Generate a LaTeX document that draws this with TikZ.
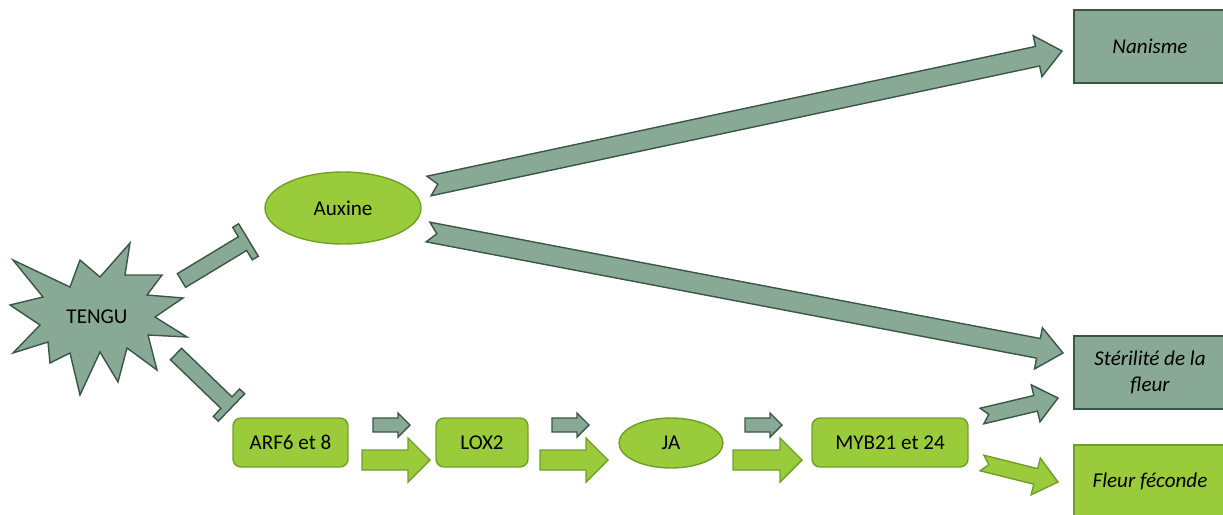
\documentclass[tikz,border=0pt]{standalone}
\usepackage{fontspec}
\setmainfont{Carlito}
\usetikzlibrary{calc}
\usetikzlibrary{shapes.geometric}

\definecolor{sauge}{RGB}{135,169,149}
\definecolor{saugefonce}{RGB}{60,86,70}
\definecolor{pousse}{RGB}{154,203,58}
\definecolor{poussefonce}{RGB}{113,158,42}

\tikzset{
  grisvert/.style={fill=sauge,draw=saugefonce,line width=0.8pt},
  vert/.style={fill=pousse,draw=poussefonce,line width=0.8pt},
  boite/.style={rectangle,rounded corners=0.16cm,vert},
  issue/.style={rectangle,align=center,font=\fontsize{12}{15}\selectfont\itshape}
}

% fleche pleine : style, queue, pointe, demi-tige, demi-tete, longueur tete, encoche
\newcommand{\flechebloc}[7]{%
  \coordinate (fbt) at ($(#3)!#6!(#2)$);
  \coordinate (fbn) at ($(#2)!#7!(#3)$);
  \draw[#1] ($(#2)!#4!90:(#3)$) -- ($(fbt)!#4!90:(#3)$) -- ($(fbt)!#5!90:(#3)$) -- (#3)
    -- ($(fbt)!#5!-90:(#3)$) -- ($(fbt)!#4!-90:(#3)$) -- ($(#2)!#4!-90:(#3)$) -- (fbn) -- cycle;
}
% inhibition : style, depart, fin, demi-tige, demi-barre, epaisseur barre
\newcommand{\inhibe}[6]{%
  \coordinate (ibc) at ($(#3)!#6!(#2)$);
  \coordinate (ibx) at ($(#3)!-1cm!(#2)$);
  \draw[#1] ($(#2)!#4!90:(#3)$) -- ($(ibc)!#4!90:(#3)$) -- ($(ibc)!#5!90:(#3)$)
    -- ($(#3)!#5!90:(ibx)$) -- ($(#3)!#5!-90:(ibx)$) -- ($(ibc)!#5!-90:(#3)$)
    -- ($(ibc)!#4!-90:(#3)$) -- ($(#2)!#4!-90:(#3)$) -- cycle;
}

\begin{document}
\begin{tikzpicture}[x=0.02cm,y=-0.02cm,font=\fontsize{12}{15}\selectfont]
\path[use as bounding box,clip] (0,0) rectangle (1223,514);

% phenotypes
\node[issue,grisvert,minimum width=3.04cm,minimum height=1.46cm] (nanisme) at (1150,46.5) {Nanisme};
\node[issue,grisvert,minimum width=3.04cm,minimum height=1.46cm] (sterile) at (1150,372.5) {St\'erilit\'e de la\\fleur};
\node[issue,vert,minimum width=3.04cm,minimum height=1.46cm] (feconde) at (1150,481.5) {Fleur f\'econde};

% TENGU (etoile irreguliere)
\draw[grisvert,line join=miter] (13,260) -- (70,287) -- (80,260) -- (100,277) -- (130,243) -- (125,275)
  -- (162,275) -- (147,295) -- (183,298) -- (155,317) -- (187,337) -- (148,335)
  -- (157,370) -- (127,348) -- (118,382) -- (100,352) -- (80,395) -- (70,353)
  -- (50,363) -- (48,342) -- (13,353) -- (40,325) -- (10,305) -- (43,297) -- cycle;
\node (tengu) at (97,317) {TENGU};

% acteurs
\node[ellipse,vert,minimum width=3.12cm,minimum height=1.44cm] (auxine) at (343,208) {Auxine};
\node[boite,minimum width=2.3cm,minimum height=0.98cm] (arf) at (290.5,442.5) {ARF6 et 8};
\node[boite,minimum width=1.84cm,minimum height=0.98cm] (lox) at (482,442.5) {LOX2};
\node[ellipse,vert,minimum width=2.08cm,minimum height=1cm] (ja) at (671,443) {JA};
\node[boite,minimum width=3.12cm,minimum height=0.98cm] (myb) at (890,442.5) {MYB21 et 24};

% inhibitions
\coordinate (t1) at (181.5,280.5);
\coordinate (t1b) at (248.5,240);
\coordinate (t2) at (176,354);
\coordinate (t2b) at (231.5,407.5);
\inhibe{grisvert}{t1}{t1b}{0.16cm}{0.38cm}{0.14cm}
\inhibe{grisvert}{t2}{t2b}{0.16cm}{0.38cm}{0.14cm}

% auxine vers phenotypes
\coordinate (a1) at (429,186);
\coordinate (a1b) at (1062,51);
\coordinate (a2) at (428,232);
\coordinate (a2b) at (1063,353);
\flechebloc{grisvert}{a1}{a1b}{0.2cm}{0.42cm}{0.5cm}{0.18cm}
\flechebloc{grisvert}{a2}{a2b}{0.2cm}{0.42cm}{0.5cm}{0.18cm}

% cascade
\foreach \xa/\xb/\xc/\xd in {373/410/362/430, 552/589/540/608, 745/782/733/802}{
  \coordinate (p1) at (\xa,425);
  \coordinate (p2) at (\xb,425);
  \coordinate (q1) at (\xc,460);
  \coordinate (q2) at (\xd,460);
  \flechebloc{grisvert}{p1}{p2}{0.14cm}{0.24cm}{0.24cm}{0cm}
  \flechebloc{vert}{q1}{q2}{0.2cm}{0.44cm}{0.44cm}{0cm}
}

% MYB vers phenotypes
\coordinate (m1) at (982,416);
\coordinate (m1b) at (1058,398);
\coordinate (m2) at (982,463);
\coordinate (m2b) at (1058,482);
\flechebloc{grisvert}{m1}{m1b}{0.16cm}{0.38cm}{0.46cm}{0.14cm}
\flechebloc{vert}{m2}{m2b}{0.16cm}{0.38cm}{0.46cm}{0.14cm}
\end{tikzpicture}
\end{document}
